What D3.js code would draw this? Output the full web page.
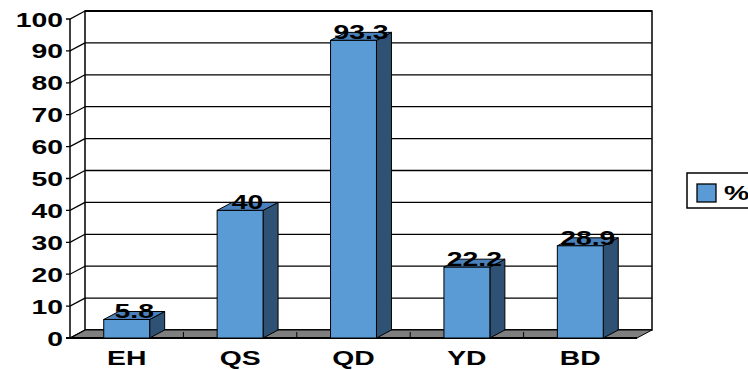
<!DOCTYPE html>
<html>
<head>
<meta charset="utf-8">
<script src="https://cdn.jsdelivr.net/npm/d3@7"></script>
<style>
  html, body { margin: 0; padding: 0; background: #fff; }
  svg { display: block; }
  text { font-family: Arial, "Liberation Sans", sans-serif; font-weight: bold; fill: #000; }
</style>
</head>
<body>
<svg id="chart" width="748" height="370"></svg>
<script>
const categories = ["EH", "QS", "QD", "YD", "BD"];
const values = [5.8, 40, 93.3, 22.2, 28.9];
const yTicks = [0, 10, 20, 30, 40, 50, 60, 70, 80, 90, 100];
const seriesName = "%";

const svg = d3.select("#chart");
const depth = { dx: 15, dy: -8 };
const stretch = 1.35;

const x = d3.scaleBand()
  .domain(categories)
  .range([70, 637]);
const barW = x.bandwidth() * 0.405;

const y = d3.scaleLinear()
  .domain([0, 100])
  .range([338, 19]);

const x0 = x.range()[0], x1 = x.range()[1];
const yTop = y(100), yBot = y(0);

// stretched bold text helper
const label = (g, tx, ty, str, anchor, size) =>
  g.append("text")
    .attr("transform", `translate(${tx},${ty}) scale(${stretch},1)`)
    .attr("text-anchor", anchor)
    .attr("font-size", size)
    .text(str);

// back wall
svg.append("rect")
  .attr("x", x0 + depth.dx)
  .attr("y", yTop + depth.dy)
  .attr("width", x1 - x0)
  .attr("height", yBot - yTop)
  .attr("fill", "#fff")
  .attr("stroke", "#000")
  .attr("stroke-width", 1.5);

// gridlines on back wall
svg.append("g")
  .selectAll("line")
  .data(yTicks)
  .join("line")
  .attr("x1", x0 + depth.dx)
  .attr("x2", x1 + depth.dx)
  .attr("y1", d => y(d) + depth.dy)
  .attr("y2", d => y(d) + depth.dy)
  .attr("stroke", "#000")
  .attr("stroke-width", d => d === 100 ? 2 : 1.3);

// floor
svg.append("polygon")
  .attr("points", [
    [x0, yBot], [x1, yBot], [x1 + depth.dx, yBot + depth.dy], [x0 + depth.dx, yBot + depth.dy]
  ].map(p => p.join(",")).join(" "))
  .attr("fill", "#7f7f7f")
  .attr("stroke", "#000")
  .attr("stroke-width", 1);

// floor ticks at category boundaries
svg.append("g")
  .selectAll("line")
  .data(categories.slice(1))
  .join("line")
  .attr("x1", d => x(d))
  .attr("x2", d => x(d))
  .attr("y1", yBot)
  .attr("y2", yBot - 6)
  .attr("stroke", "#000");

// left axis: front line, ticks and diagonals
const axis = svg.append("g");
axis.append("line")
  .attr("x1", x0).attr("x2", x0)
  .attr("y1", yTop).attr("y2", yBot)
  .attr("stroke", "#000").attr("stroke-width", 1.5);
axis.selectAll("path.tk")
  .data(yTicks)
  .join("path")
  .attr("class", "tk")
  .attr("d", d => `M${x0 - 4},${y(d)}H${x0}L${x0 + depth.dx},${y(d) + depth.dy}`)
  .attr("fill", "none")
  .attr("stroke", "#000")
  .attr("stroke-width", 1.3);
yTicks.forEach(t => label(axis, 63, y(t) + 7.5, t, "end", 21));

// front floor edge
svg.append("line")
  .attr("x1", x0 - 4).attr("x2", x1)
  .attr("y1", yBot).attr("y2", yBot)
  .attr("stroke", "#000").attr("stroke-width", 2);

// bars
const bars = svg.append("g")
  .selectAll("g")
  .data(categories.map((c, i) => ({ c, v: values[i] })))
  .join("g");

const bx = d => x(d.c) + (x.bandwidth() - barW) / 2;

bars.append("polygon") // side
  .attr("points", d => {
    const l = bx(d) + barW, t = y(d.v);
    return [[l, yBot], [l, t], [l + depth.dx, t + depth.dy], [l + depth.dx, yBot + depth.dy]]
      .map(p => p.join(",")).join(" ");
  })
  .attr("fill", "#2f5274")
  .attr("stroke", "#000")
  .attr("stroke-width", 1);

bars.append("polygon") // top
  .attr("points", d => {
    const l = bx(d), t = y(d.v);
    return [[l, t], [l + barW, t], [l + barW + depth.dx, t + depth.dy], [l + depth.dx, t + depth.dy]]
      .map(p => p.join(",")).join(" ");
  })
  .attr("fill", "#4a80bb")
  .attr("stroke", "#000")
  .attr("stroke-width", 1);

bars.append("rect") // front
  .attr("x", bx)
  .attr("y", d => y(d.v))
  .attr("width", barW)
  .attr("height", d => yBot - y(d.v))
  .attr("fill", "#5b9bd5")
  .attr("stroke", "#000")
  .attr("stroke-width", 1);

// value labels
bars.each(function (d) {
  const g = d3.select(this);
  const cx = x(d.c) + x.bandwidth() / 2 + depth.dx / 2;
  label(g, cx, y(d.v) - 1, d.v, "middle", 21);
});

// category labels
const xl = svg.append("g");
categories.forEach(c => label(xl, x(c) + x.bandwidth() / 2, 365, c, "middle", 21));

// legend
const leg = svg.append("g");
leg.append("rect")
  .attr("x", 687).attr("y", 173)
  .attr("width", 80).attr("height", 35)
  .attr("fill", "#fff").attr("stroke", "#000").attr("stroke-width", 1.5);
leg.append("rect")
  .attr("x", 697).attr("y", 184)
  .attr("width", 19).attr("height", 18)
  .attr("fill", "#5b9bd5").attr("stroke", "#000").attr("stroke-width", 1.3);
label(leg, 724, 200, seriesName, "start", 21);
</script>
</body>
</html>
